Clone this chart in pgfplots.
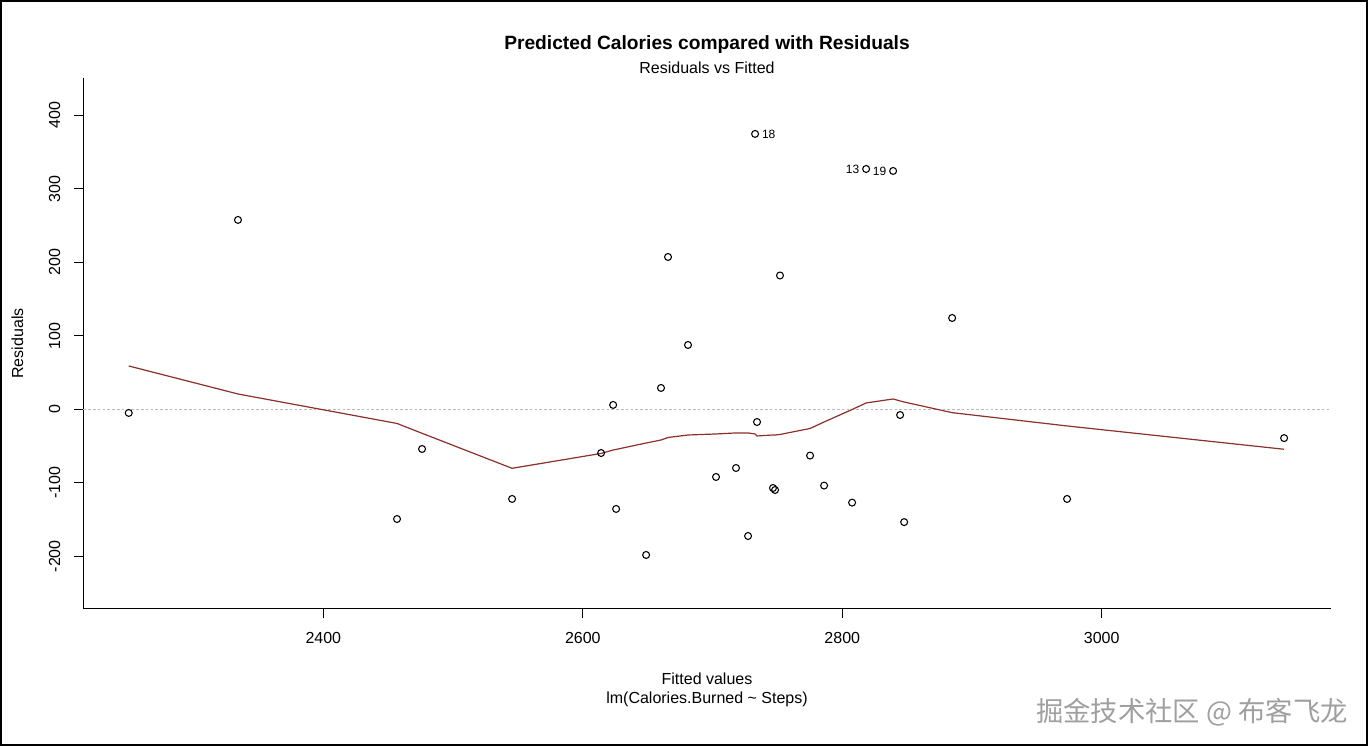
\documentclass[border=0pt]{standalone}
\usepackage{pgfplots}
\pgfplotsset{compat=1.18}
\usepackage{pgfplotstable}
\usepackage{fontspec}
\setmainfont{Liberation Sans}
\newfontfamily\cjk{Noto Sans CJK SC}
\definecolor{lowesscol}{RGB}{140,48,42}
\pgfplotstableread{
x y
2250.0 -5.0
2334.2 257.6
2456.8 -149.3
2476.1 -54.0
2545.5 -122.0
2614.1 -59.5
2623.4 5.9
2625.7 -135.6
2648.8 -198.2
2660.3 29.0
2665.7 207.2
2681.1 87.5
2702.7 -92.1
2718.1 -79.9
2727.4 -172.4
2732.8 374.6
2734.3 -17.3
2746.6 -107.1
2748.2 -109.8
2752.0 182.0
2775.2 -63.0
2786.0 -103.8
2807.6 -127.0
2818.4 326.9
2839.2 324.2
2844.6 -7.8
2847.7 -153.5
2884.7 124.2
2973.3 -122.0
3140.6 -39.2
}\resid
\pgfplotstableread{
x y
2250.0 58.9
2334.2 20.8
2456.8 -19.3
2476.1 -32.7
2545.5 -80.3
2614.1 -60.1
2623.4 -55.4
2625.7 -54.6
2648.8 -45.9
2660.3 -41.8
2665.7 -38.4
2681.1 -35.0
2702.7 -33.6
2718.1 -32.2
2727.4 -32.2
2732.8 -33.6
2734.3 -36.3
2746.6 -35.0
2748.2 -35.0
2752.0 -34.3
2775.2 -26.1
2786.0 -17.3
2807.6 -0.3
2818.4 8.6
2839.2 14.0
2844.6 11.3
2847.7 9.9
2884.7 -4.6
2973.3 -22.7
3140.6 -54.4
}\lowess
\begin{document}
\begin{tikzpicture}[x=1bp,y=1bp]
\useasboundingbox (0,0) rectangle (1026,559.5);
\draw[line width=1bp] (0.75,0.75) rectangle (1025.25,558.75);
\begin{axis}[
  at={(62.5bp,102.75bp)}, anchor=south west,
  scale only axis, width=935.5bp, height=398.25bp,
  xmin=2215, xmax=3176.5, ymin=-271.7, ymax=450.7,
  axis x line*=bottom, axis y line*=left,
  axis line style={line width=0.75bp, -},
  xtick={2400,2600,2800,3000},
  ytick={-200,-100,0,100,200,300,400},
  minor tick num=0,
  tick align=outside, major tick length=6.75bp,
  tick style={black, line width=0.75bp},
  tick label style={font=\fontsize{12bp}{14bp}\selectfont, inner sep=0pt},
  /pgf/number format/assume math mode=true,
  /pgf/number format/set thousands separator={},
  scaled ticks=false,
  xticklabel style={anchor=north, outer sep=10.5bp},
  yticklabel style={rotate=90, anchor=south, outer sep=10.5bp},
  clip=false,
]
\addplot[gray!55, line width=0.75bp, dash pattern=on 2bp off 1.6bp] coordinates {(2215,0) (3176.5,0)};
\addplot[lowesscol, line width=0.9bp] table[x=x,y=y] {\lowess};
\addplot[only marks, mark=o, mark size=2.6bp, mark options={black, line width=0.8bp}] table[x=x,y=y] {\resid};
\addplot[only marks, mark=none, nodes near coords, point meta=explicit symbolic,
  nodes near coords style={anchor=west, inner sep=0pt, xshift=5bp, font=\fontsize{9bp}{10bp}\selectfont, black}]
  table[x=x,y=y,meta=lab] {
x y lab
2732.8 374.6 18
};
\addplot[only marks, mark=none, nodes near coords, point meta=explicit symbolic,
  nodes near coords style={anchor=east, inner sep=0pt, xshift=-5bp, font=\fontsize{9bp}{10bp}\selectfont, black}]
  table[x=x,y=y,meta=lab] {
x y lab
2818.4 326.9 13
2839.2 324.2 19
};
\end{axis}
\node[anchor=base, font=\bfseries\fontsize{14.4bp}{16bp}\selectfont] at (530.25,522) {Predicted Calories compared with Residuals};
\node[anchor=base, font=\fontsize{12bp}{14bp}\selectfont] at (530.25,504.4) {Residuals vs Fitted};
\node[anchor=base, font=\fontsize{12bp}{14bp}\selectfont] at (530.25,46.2) {Fitted values};
\node[anchor=base, font=\fontsize{12bp}{14bp}\selectfont] at (530.25,32.2) {lm(Calories.Burned \textasciitilde{} Steps)};
\node[anchor=base, rotate=90, font=\fontsize{12bp}{14bp}\selectfont] at (17.25,301.9) {Residuals};
\node[anchor=base, text=gray!75, font=\cjk\fontsize{20.5bp}{24bp}\selectfont] at (894,18) {掘金技术社区 @ 布客飞龙};
\end{tikzpicture}
\end{document}
